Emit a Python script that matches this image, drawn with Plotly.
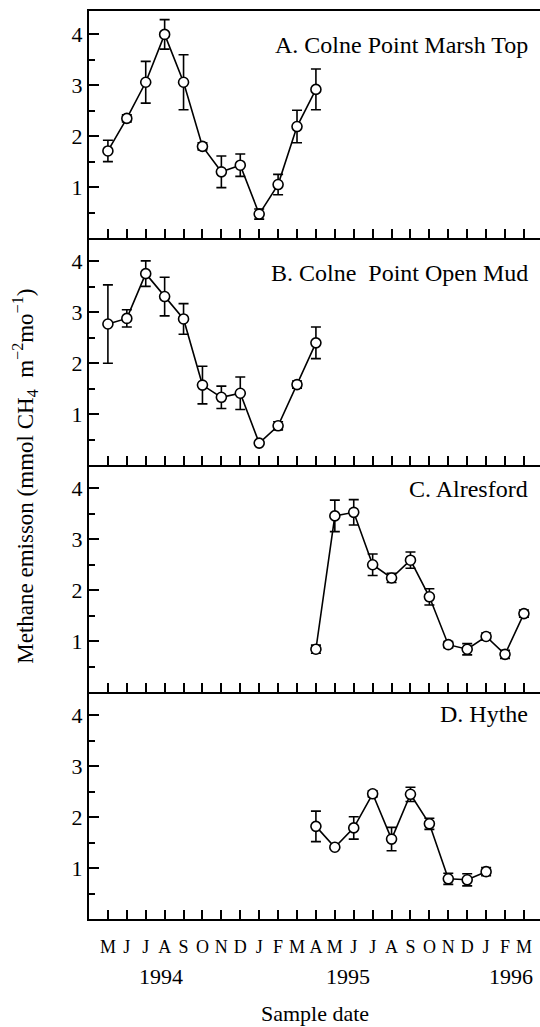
import plotly.graph_objects as go
from plotly.subplots import make_subplots

# ---- data ----
months = ["M", "J", "J", "A", "S", "O", "N", "D", "J", "F", "M", "A",
          "M", "J", "J", "A", "S", "O", "N", "D", "J", "F", "M"]
month_idx = list(range(len(months)))   # May 1994 ... Mar 1996
years = ["1994", "1995", "1996"]
year_pos = [2.8, 12.67, 21.3]

panel_titles = ["A. Colne Point Marsh Top", "B. Colne  Point Open Mud",
                "C. Alresford", "D. Hythe"]

a_x = list(range(0, 12))
a_y = [1.71, 2.35, 3.06, 4.00, 3.06, 1.80, 1.30, 1.43, 0.47, 1.05, 2.19, 2.92]
a_err = [0.21, 0.07, 0.41, 0.29, 0.54, 0.07, 0.31, 0.22, 0.10, 0.20, 0.32, 0.40]

b_x = list(range(0, 12))
b_y = [2.77, 2.88, 3.76, 3.31, 2.87, 1.57, 1.33, 1.41, 0.43, 0.77, 1.58, 2.40]
b_err = [0.77, 0.17, 0.25, 0.38, 0.30, 0.37, 0.22, 0.32, 0.03, 0.08, 0.07, 0.31]

c_x = list(range(11, 23))
c_y = [0.84, 3.46, 3.53, 2.50, 2.24, 2.59, 1.87, 0.93, 0.84, 1.09, 0.74, 1.54]
c_err = [0.08, 0.31, 0.25, 0.21, 0.09, 0.16, 0.16, 0.06, 0.11, 0.07, 0.08, 0.07]

d_x = list(range(11, 21))
d_y = [1.82, 1.41, 1.79, 2.46, 1.57, 2.45, 1.87, 0.79, 0.77, 0.93]
d_err = [0.30, 0.04, 0.22, 0.06, 0.23, 0.14, 0.11, 0.11, 0.12, 0.08]

series = [(a_x, a_y, a_err), (b_x, b_y, b_err), (c_x, c_y, c_err), (d_x, d_y, d_err)]
title_offsets = [34, 35, 24, 22]   # px below panel top

FONT = "Liberation Serif, Times New Roman, serif"
W, H = 540, 1027
ML, MR, MT, MB = 89, 0, 11, 107.5
plot_h = H - MT - MB
panel_h = plot_h / 4

fig = make_subplots(rows=4, cols=1, shared_xaxes=True, vertical_spacing=0)

for i, (xs, ys, es) in enumerate(series):
    fig.add_trace(go.Scatter(
        x=xs, y=ys, mode="lines+markers",
        line=dict(color="black", width=1.6),
        marker=dict(symbol="circle", size=10, color="white",
                    line=dict(color="black", width=1.6)),
        error_y=dict(type="data", array=es, visible=True, color="black",
                     thickness=1.6, width=5),
        showlegend=False,
    ), row=i + 1, col=1)

    fig.add_annotation(
        text=panel_titles[i], xref="paper", yref=f"y{'' if i == 0 else i + 1} domain",
        x=(530 - ML) / (W - ML - MR), y=1 - title_offsets[i] / panel_h,
        xanchor="right", yanchor="middle", showarrow=False,
        font=dict(family=FONT, size=24, color="black"))

fig.update_xaxes(
    range=[-1, 22.85], tickmode="array", tickvals=month_idx, ticktext=months,
    ticks="inside", ticklen=9, tickwidth=1.5, tickcolor="black",
    showline=True, linewidth=2, linecolor="black",
    showgrid=False, zeroline=False,
    tickfont=dict(family=FONT, size=18, color="black"))
fig.update_xaxes(showticklabels=False, row=1, col=1)
fig.update_xaxes(showticklabels=False, row=2, col=1)
fig.update_xaxes(showticklabels=False, row=3, col=1)
fig.update_xaxes(showticklabels=True, ticklabelstandoff=10, row=4, col=1)
fig.update_xaxes(mirror=True, row=1, col=1)

fig.update_yaxes(
    range=[0, 4.46], tickmode="array", tickvals=[1, 2, 3, 4],
    ticks="inside", ticklen=10, tickwidth=1.5, tickcolor="black",
    minor=dict(tickmode="array", tickvals=[0.5, 1.5, 2.5, 3.5],
               ticks="inside", ticklen=6, tickwidth=1.5, tickcolor="black"),
    showline=True, linewidth=2, linecolor="black",
    showgrid=False, zeroline=False,
    tickfont=dict(family=FONT, size=22, color="black"))

for yl, xp in zip(years, year_pos):
    fig.add_annotation(text=yl, x=xp, xref="x4", y=(H - 977 - MB) / plot_h,
                       yref="paper", yanchor="middle", xanchor="center",
                       showarrow=False,
                       font=dict(family=FONT, size=22, color="black"))

fig.add_annotation(text="Sample date", x=0.5, xref="paper",
                   y=(H - 1014 - MB) / plot_h, yref="paper",
                   xanchor="center", yanchor="middle", showarrow=False,
                   font=dict(family=FONT, size=22, color="black"))

fig.add_annotation(
    text="Methane emisson (mmol CH<sub>4</sub>  m<sup>\u22122</sup>mo<sup>\u22121</sup>)",
    textangle=-90, x=(25 - ML) / (W - ML - MR), xref="paper",
    y=(H - 477 - MB) / plot_h, yref="paper",
    xanchor="center", yanchor="middle", showarrow=False,
    font=dict(family=FONT, size=23, color="black"))

fig.update_layout(
    width=W, height=H,
    margin=dict(l=ML, r=MR, t=MT, b=MB),
    paper_bgcolor="white", plot_bgcolor="white",
    font=dict(family=FONT, color="black"),
)

fig.write_html("out.html")
